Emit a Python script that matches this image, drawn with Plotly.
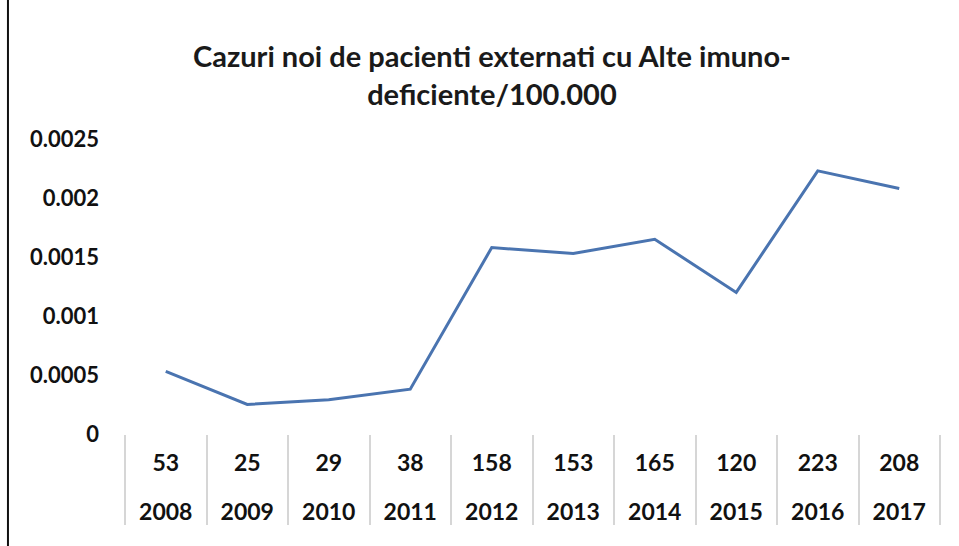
import plotly.graph_objects as go

years = ["2008", "2009", "2010", "2011", "2012", "2013", "2014", "2015", "2016", "2017"]
cases = ["53", "25", "29", "38", "158", "153", "165", "120", "223", "208"]
rates = [0.00053, 0.00025, 0.00029, 0.00038, 0.00158, 0.00153, 0.00165, 0.00120, 0.00223, 0.00208]
y_ticks = [0, 0.0005, 0.001, 0.0015, 0.002, 0.0025]

title_text = "Cazuri noi de pacienti externati cu Alte imuno-<br>deficiente/100.000"

# inner labels get a blank second line so the year row sits lower, as in the reference
case_labels = [c + "<br><span style='font-size:34px'> </span>" for c in cases]

fig = go.Figure()
fig.add_trace(go.Scatter(
    x=[years, case_labels],
    y=rates,
    mode="lines",
    line=dict(color="#4A74B0", width=3),
    showlegend=False,
    hoverinfo="skip",
))

fig.update_layout(
    width=959, height=546,
    paper_bgcolor="white", plot_bgcolor="white",
    margin=dict(l=125, r=19, t=139, b=112),
    title=dict(
        text=title_text,
        x=0.513, xanchor="center",
        y=0.877, yanchor="top",
        font=dict(family="Lato", size=29, color="#1a1a1a", weight="bold"),
    ),
    font=dict(family="Lato", color="#111111"),
    shapes=[dict(type="line", xref="paper", yref="paper",
                 x0=-0.1436, x1=-0.1436, y0=-0.38, y1=1.48,
                 line=dict(color="#111111", width=2))],
)

fig.update_xaxes(
    type="multicategory",
    range=[-0.5, 9.5],
    automargin=False,
    showline=False,
    showgrid=False,
    showdividers=True,
    dividercolor="#d6d6d6",
    dividerwidth=1.5,
    ticks="",
    ticklabelstandoff=13,
    tickfont=dict(family="Lato", size=23, color="#111111", weight="bold"),
)
fig.update_yaxes(
    range=[0, 0.0025],
    automargin=False,
    tickvals=y_ticks,
    tickformat=".4~f",
    showgrid=False,
    showline=False,
    zeroline=False,
    ticks="",
    ticklabelstandoff=25,
    tickfont=dict(family="Lato", size=22, color="#111111", weight="bold"),
)

fig.write_html("out.html", config={"displayModeBar": False},
               post_script="document.body.style.margin='0';")
